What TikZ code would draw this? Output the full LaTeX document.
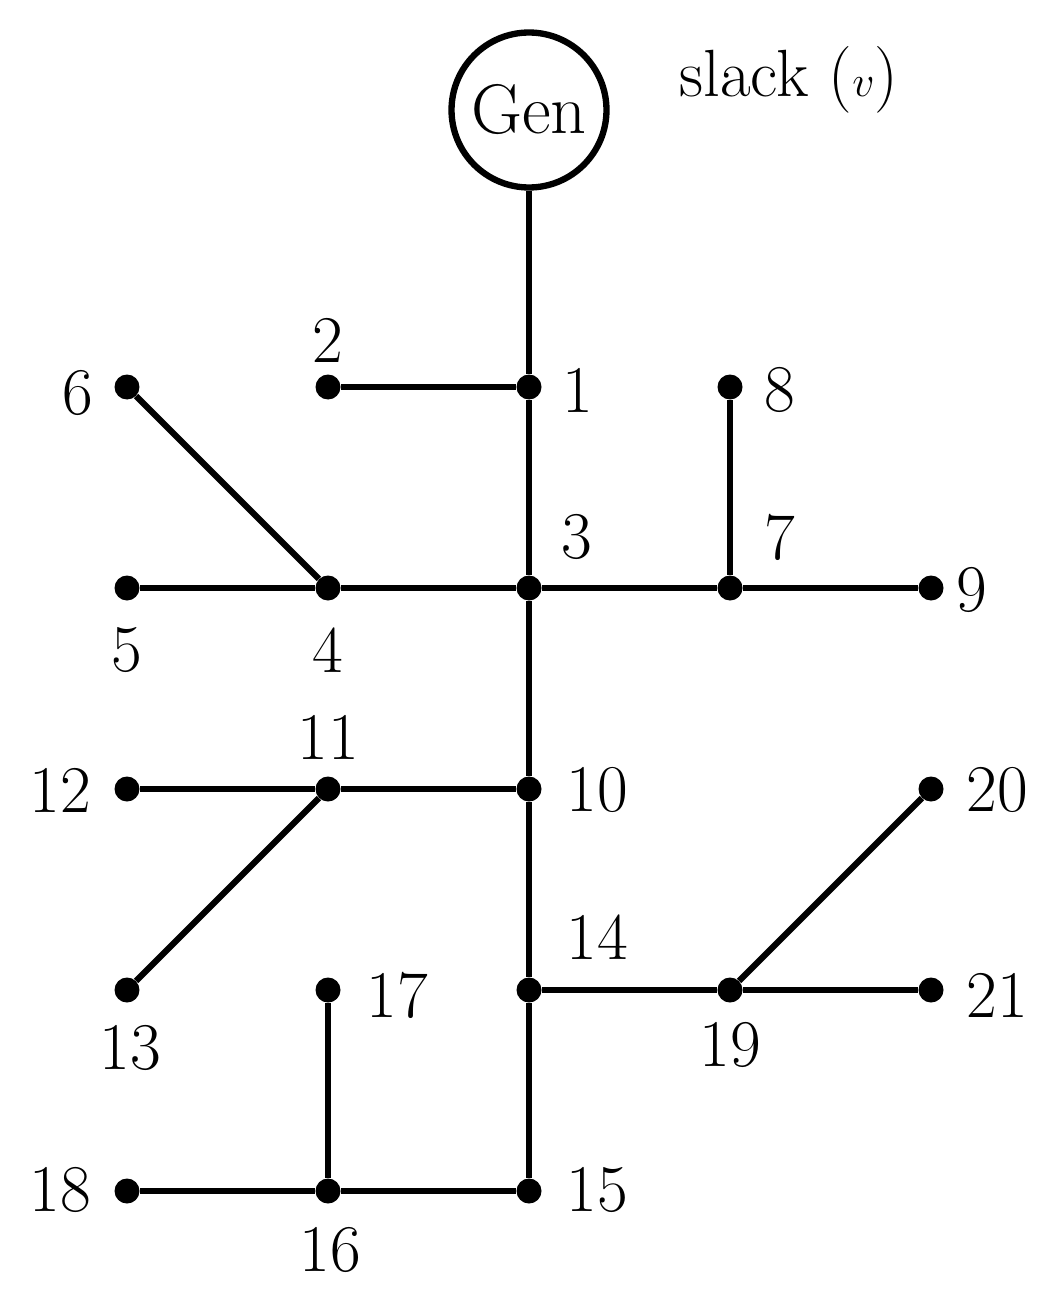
\documentclass[tikz,border=0pt]{standalone}
\begin{document}
\begin{tikzpicture}[x=0.02cm,y=-0.02cm,
  bus/.style={circle,fill=black,inner sep=0pt,minimum size=0.5cm},
  lbl/.style={font=\fontsize{38}{42}\selectfont,inner sep=0pt},
  line/.style={line width=3.6pt}]
\useasboundingbox (0,0) rectangle (1059,1304);
\node[draw,circle,line width=3.6pt,minimum size=3.1cm,inner sep=0pt,font=\fontsize{40}{44}\selectfont] (gen) at (529,110) {Gen};
\node[lbl] (slack) at (789,80) {slack ($v$)};
\foreach \n/\x/\y in {1/529/387,2/328/387,3/529/588,4/328/588,5/127/588,6/127/387,7/730/588,8/730/387,9/931/588,10/529/789,11/328/789,12/127/789,13/127/990,14/529/990,15/529/1191,16/328/1191,17/328/990,18/127/1191,19/730/990,20/931/789,21/931/990}
  \node[bus] (b\n) at (\x,\y) {};
\draw[line] (gen) -- (b1) -- (b3) -- (b10) -- (b14) -- (b15);
\draw[line] (b2) -- (b1);
\draw[line] (b5) -- (b4) -- (b3) -- (b7) -- (b9);
\draw[line] (b6) -- (b4);
\draw[line] (b8) -- (b7);
\draw[line] (b12) -- (b11) -- (b10);
\draw[line] (b13) -- (b11);
\draw[line] (b14) -- (b19) -- (b21);
\draw[line] (b19) -- (b20);
\draw[line] (b18) -- (b16) -- (b15);
\draw[line] (b17) -- (b16);
\foreach \n/\x/\y in {1/578/390,2/328/340,3/577/537,4/328/650,5/127/650,6/78/393,7/780/537,8/780/390,9/972/590,10/597/790,11/328/737,12/60/790,13/130/1048,14/597/937,15/597/1190,16/330/1250,17/397/995,18/60/1190,19/730/1045,20/997/790,21/997/995}
  \node[lbl] (l\n) at (\x,\y) {\n};
\end{tikzpicture}
\end{document}
